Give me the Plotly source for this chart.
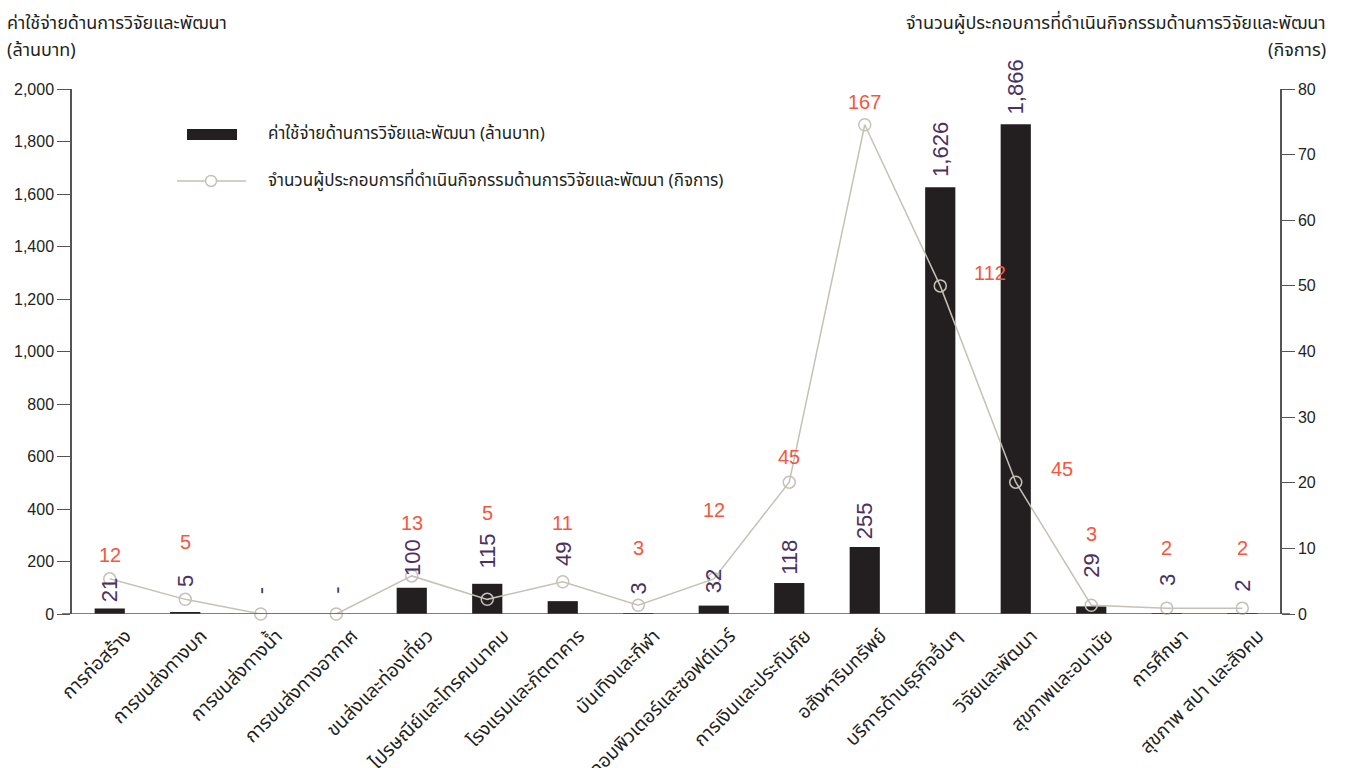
import plotly.graph_objects as go

# Categories (industry groups)
categories = [
    "การก่อสร้าง", "การขนส่งทางบก", "การขนส่งทางน้ำ", "การขนส่งทางอากาศ",
    "ขนส่งและท่องเที่ยว", "ไปรษณีย์และโทรคมนาคม", "โรงแรมและภัตตาคาร",
    "บันเทิงและกีฬา", "คอมพิวเตอร์และซอฟต์แวร์", "การเงินและประกันภัย",
    "อสังหาริมทรัพย์", "บริการด้านธุรกิจอื่นๆ", "วิจัยและพัฒนา",
    "สุขภาพและอนามัย", "การศึกษา", "สุขภาพ สปา และสังคม",
]
# R&D expenditure (million baht); None = no data ("-")
expense = [21, 5, None, None, 100, 115, 49, 3, 32, 118, 255, 1626, 1866, 29, 3, 2]
# Number of enterprises doing R&D
firms = [12, 5, 0, 0, 13, 5, 11, 3, 12, 45, 167, 112, 45, 3, 2, 2]

# label offsets (px) above each bar / line point
bar_label_shift = [4, 24, 18, 18, 10, 13, 33, 17, 10, 6, 6, 8, 8, 27, 25, 20]
firm_label_shift = [(0, 11), (0, 44), None, None, (0, 40), (0, 73), (0, 46), (0, 44),
                    (0, 56), (0, 12), (0, 10), (32, 13), (33, 13), (0, 58), (0, 47), (0, 47)]

BAR = "#231f20"
BAR_TXT = "#4b3161"
LINE = "#c5c1b8"
RED = "#f4573e"
AXIS = "#555555"
THAI = "Noto Sans Thai, Noto Sans, Liberation Sans, sans-serif"
NUM = "Liberation Sans, Arial, sans-serif"

bar_y = [v if v is not None else 0 for v in expense]

fig = go.Figure()
fig.add_trace(go.Bar(
    x=categories, y=bar_y, marker=dict(color=BAR, line=dict(width=0)),
    showlegend=False, hoverinfo="skip",
))
# empty trace so the right-hand axis is rendered
fig.add_trace(go.Scatter(x=[], y=[], yaxis="y2", showlegend=False, hoverinfo="skip"))
fig.add_trace(go.Scatter(
    x=categories, y=firms, yaxis="y3", mode="lines+markers",
    line=dict(color=LINE, width=1.5),
    marker=dict(symbol="circle-open", size=12, color=LINE, line=dict(width=1.5)),
    showlegend=False, hoverinfo="skip", cliponaxis=False,
))

annotations = []
for c, v, y, s in zip(categories, expense, bar_y, bar_label_shift):
    annotations.append(dict(
        x=c, y=y, xref="x", yref="y", text="-" if v is None else f"{v:,}",
        textangle=-90, showarrow=False, yanchor="bottom", xanchor="center",
        yshift=s, font=dict(family="Liberation Sans Narrow, " + NUM, size=22, color=BAR_TXT),
    ))
for c, n, sh in zip(categories, firms, firm_label_shift):
    if sh is None:
        continue
    dx, dy = sh
    annotations.append(dict(
        x=c, y=n, xref="x", yref="y3", text=f"{n:,}", showarrow=False,
        xanchor="left" if dx else "center", yanchor="middle" if dx else "bottom",
        xshift=dx, yshift=dy, font=dict(family=NUM, size=20, color=RED),
    ))

# axis titles (two lines each)
title_font = dict(family=THAI, size=18, color=BAR)
for txt, x, y, anchor in [
    ("ค่าใช้จ่ายด้านการวิจัยและพัฒนา", -0.0555, 1.124, "left"),
    ("(ล้านบาท)", -0.0555, 1.074, "left"),
    ("จำนวนผู้ประกอบการที่ดำเนินกิจกรรมด้านการวิจัยและพัฒนา", 1.0397, 1.124, "right"),
    ("(กิจการ)", 1.0397, 1.074, "right"),
]:
    annotations.append(dict(
        xref="paper", yref="paper", x=x, y=y, xanchor=anchor, yanchor="middle",
        showarrow=False, text=txt, font=title_font,
    ))

# legend drawn with shapes + text
annotations.append(dict(
    xref="paper", yref="paper", x=0.1606, y=0.9143, xanchor="left", yanchor="middle",
    showarrow=False, text="ค่าใช้จ่ายด้านการวิจัยและพัฒนา (ล้านบาท)",
    font=dict(family=THAI, size=17, color=BAR),
))
annotations.append(dict(
    xref="paper", yref="paper", x=0.1606, y=0.8248, xanchor="left", yanchor="middle",
    showarrow=False, text="จำนวนผู้ประกอบการที่ดำเนินกิจกรรมด้านการวิจัยและพัฒนา (กิจการ)",
    font=dict(family=THAI, size=17, color=BAR),
))
shapes = [
    dict(type="rect", xref="paper", yref="paper", x0=0.0952, x1=0.1366, y0=0.9029, y1=0.9238,
         fillcolor=BAR, line=dict(width=0)),
    dict(type="line", xref="paper", yref="paper", x0=0.0869, x1=0.1440, y0=0.8248, y1=0.8248,
         line=dict(color=LINE, width=1.5)),
    dict(type="circle", xref="paper", yref="paper", xsizemode="pixel", ysizemode="pixel",
         xanchor=0.1151, yanchor=0.8248, x0=-5.5, x1=5.5, y0=-5.5, y1=5.5,
         fillcolor="white", line=dict(color=LINE, width=1.5)),
    # baseline running slightly past both value axes
    dict(type="line", xref="paper", yref="y", x0=-0.0083, x1=1.0083, y0=0, y1=0,
         line=dict(color=AXIS, width=1.5), layer="above"),
]

fig.update_layout(
    width=1347, height=768,
    margin=dict(l=72, r=67, t=89, b=154, autoexpand=False),
    paper_bgcolor="white", plot_bgcolor="white",
    bargap=0.6,
    annotations=annotations, shapes=shapes,
    xaxis=dict(
        range=[-0.5, 15.5], tickangle=-45, showline=False, automargin=False,
        ticks="", showgrid=False, tickfont=dict(family=THAI, size=19, color=BAR),
        ticklabelshift=16, ticklabelstandoff=6,
    ),
    yaxis=dict(
        range=[0, 2000], dtick=200, tickformat=",", showline=True, linecolor=AXIS,
        linewidth=1.5, ticks="outside", ticklen=13, tickcolor=AXIS, tickwidth=1.2,
        showgrid=False, zeroline=False, automargin=False,
        tickfont=dict(family=NUM, size=16, color=BAR),
    ),
    yaxis2=dict(
        overlaying="y", side="right", range=[0, 80], dtick=10, showline=True,
        linecolor=AXIS, linewidth=1.5, ticks="outside", ticklen=13, tickcolor=AXIS,
        tickwidth=1.2, showgrid=False, zeroline=False, automargin=False,
        tickfont=dict(family=NUM, size=16, color=BAR),
    ),
    yaxis3=dict(overlaying="y", range=[0, 179.2], visible=False),
)

fig.write_html("out.html")
